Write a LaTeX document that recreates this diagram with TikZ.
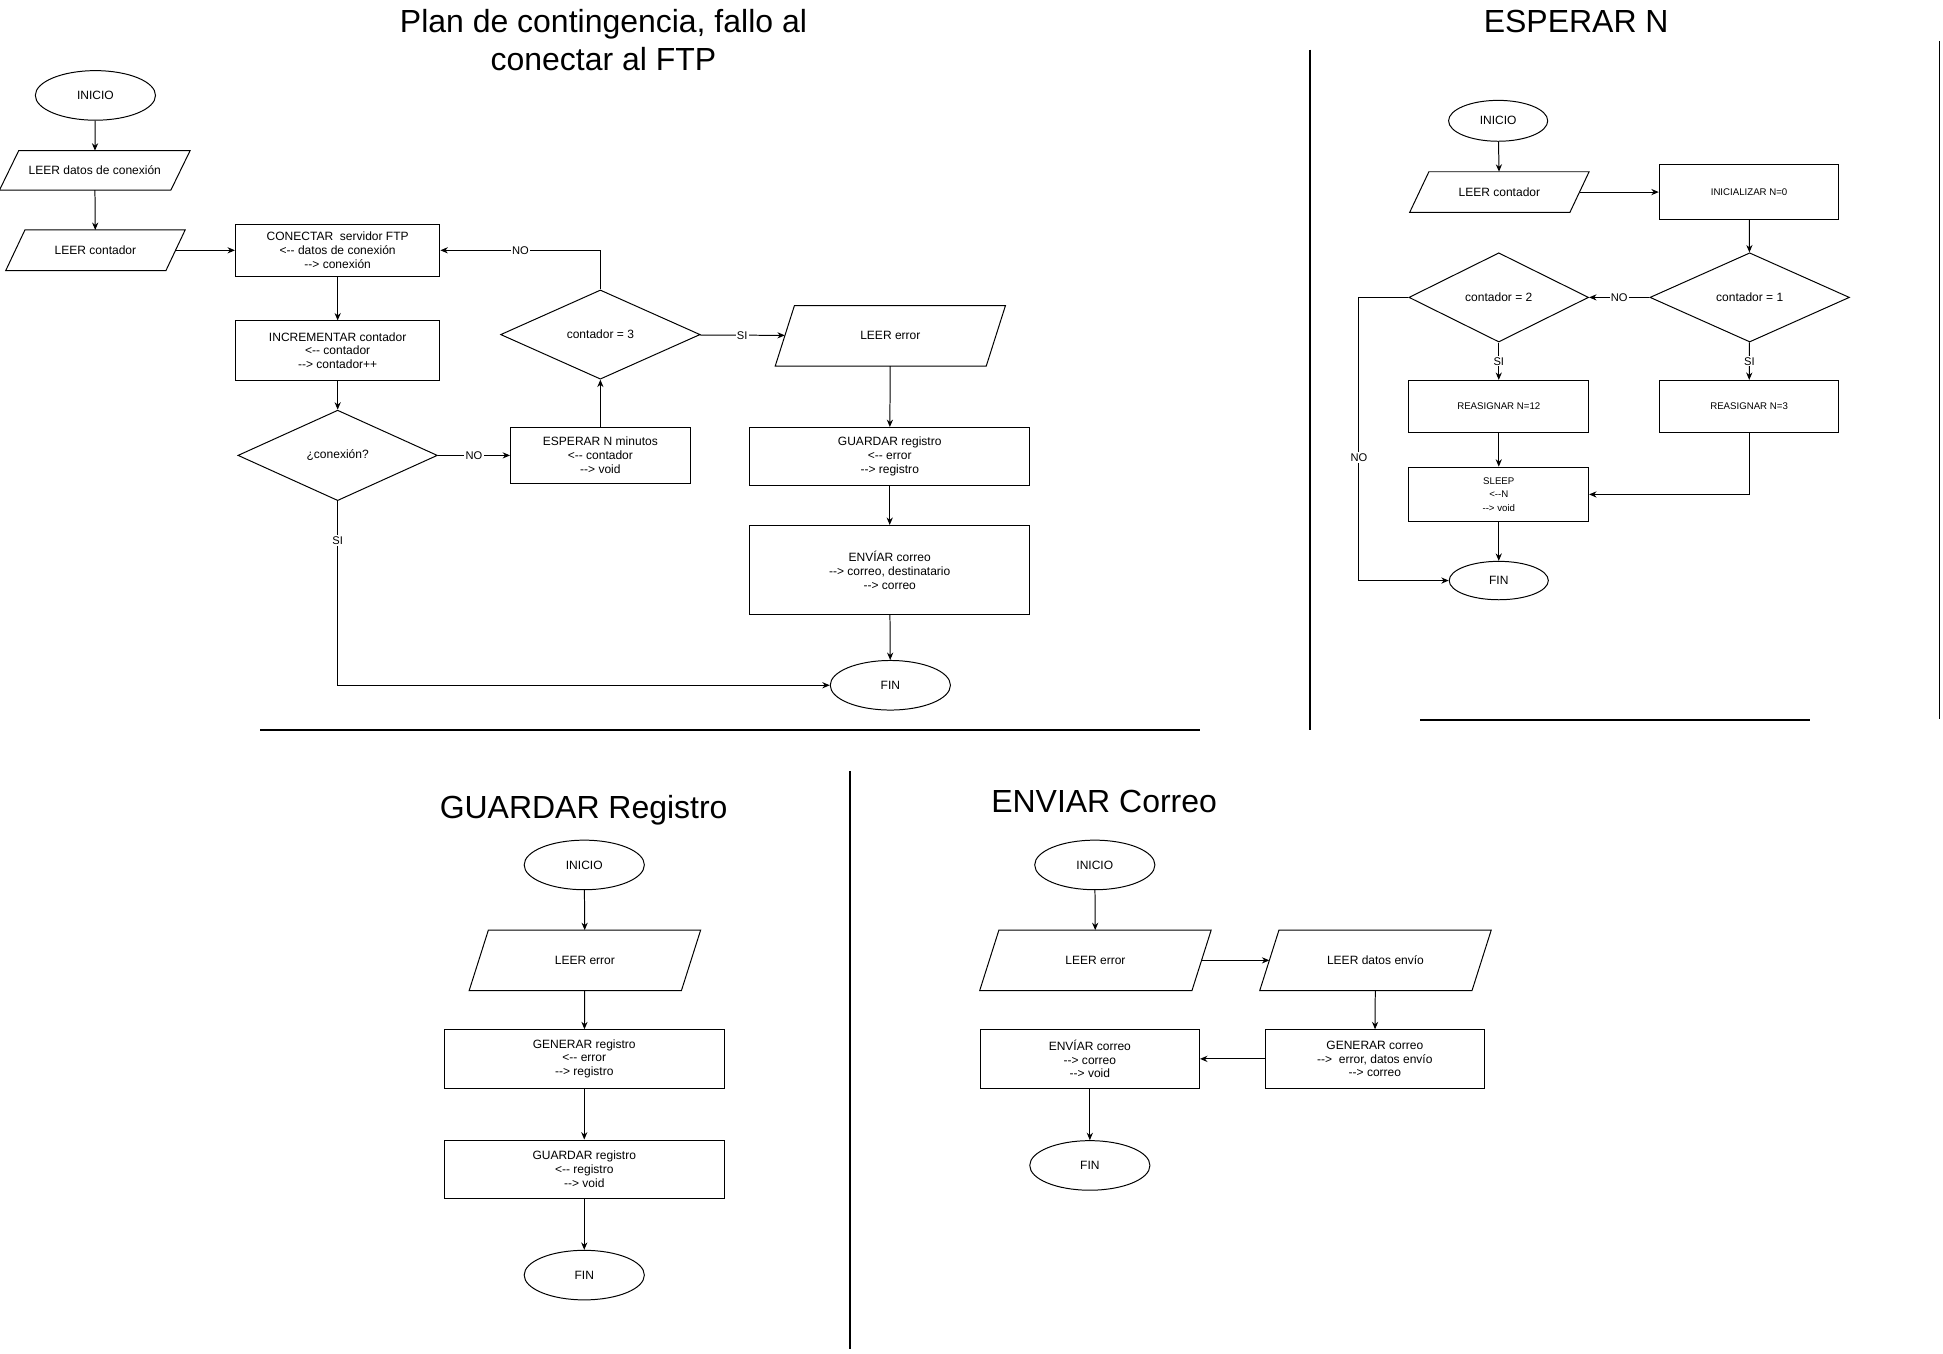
\documentclass[tikz,border=0pt]{standalone}
\usepackage{fontspec}
\setmainfont{Liberation Sans}[Ligatures=TeXOff]
\usetikzlibrary{shapes.geometric,arrows.meta,calc}

\tikzset{
 base/.style={draw, line width=0.8pt, font=\fontsize{9.7}{11.2}\selectfont, align=center, inner sep=0pt},
 small/.style={font=\fontsize{7.8}{11}\selectfont},
 term/.style={base, ellipse, minimum width=97pt, minimum height=40pt},
 io/.style={base, draw=none, rectangle},
 iopath/.style={line width=0.8pt},
 proc/.style={base, rectangle},
 dec/.style={base, diamond},
 arr/.style={line width=0.8pt, -{Stealth[length=6pt,width=5pt]}},
 lbl/.style={fill=white, inner sep=1pt, font=\fontsize{9}{10}\selectfont},
 sepline/.style={line width=1.2pt},
 ttl/.style={font=\fontsize{25.8}{31}\selectfont, align=center, inner sep=0pt},
}
% parallelogram outline round an io node (slant 15.5)
\newcommand\drawio[1]{%
  \draw[iopath] ($(#1.south west)+(-7.75,0)$) -- ($(#1.north west)+(7.75,0)$)
    -- ($(#1.north east)+(7.75,0)$) -- ($(#1.south east)+(-7.75,0)$) -- cycle;}

\begin{document}
\begin{tikzpicture}[x=1pt, y=-1pt]
\useasboundingbox (0,0) rectangle (1568,1092);

% ---------- Section 1 ----------
\node[ttl] (t1) at (487,32.5) {Plan de contingencia, fallo al\\conectar al FTP};
\node[term] (s1i) at (77,77) {INICIO};
\node[io, minimum width=137.5pt, minimum height=31pt] (s1ld) at (76.5,137.5) {LEER datos de conexión};
\drawio{s1ld}
\node[io, minimum width=128.5pt, minimum height=32pt] (s1lc) at (77,202) {LEER contador};
\drawio{s1lc}
\node[proc, minimum width=165pt, minimum height=42pt] (s1con) at (272.5,202) {CONECTAR\ \ servidor FTP\\<-- datos de conexión\\--> conexión};
\node[proc, minimum width=165pt, minimum height=48pt] (s1inc) at (272.5,283) {INCREMENTAR contador\\<-- contador\\--> contador++};
\node[dec, minimum width=161pt, minimum height=73pt] (s1cx) at (272.5,367.5) {¿conexión?};
\node[proc, minimum width=145pt, minimum height=45pt] (s1esp) at (484.5,367.5) {ESPERAR N minutos\\<-- contador\\--> void};
\node[dec, minimum width=161pt, minimum height=72pt] (s1c3) at (484.5,270) {contador = 3};
\node[io, minimum width=169.5pt, minimum height=48pt] (s1le) at (718.5,271) {LEER error};
\drawio{s1le}
\node[proc, minimum width=226pt, minimum height=47pt] (s1gr) at (718,368.5) {GUARDAR registro\\<-- error\\--> registro};
\node[proc, minimum width=226pt, minimum height=72pt] (s1ec) at (718,460) {ENVÍAR correo\\--> correo, destinatario\\--> correo};
\node[term] (s1f) at (718.5,553) {FIN};

\draw[arr] (s1i) -- (s1ld);
\draw[arr] (s1ld) -- (s1lc);
\draw[arr] (s1lc) -- (s1con);
\draw[arr] (s1con) -- (s1inc);
\draw[arr] (s1inc) -- (s1cx);
\draw[arr] (s1cx) -- node[lbl]{NO} (s1esp);
\draw[arr] (s1esp) -- (s1c3);
\draw[arr] (s1c3.north) |- node[lbl, pos=0.75]{NO} (s1con.east);
\draw[arr] (s1c3) -- node[lbl]{SI} (s1le);
\draw[arr] (s1le) -- (s1gr);
\draw[arr] (s1gr) -- (s1ec);
\draw[arr] (s1ec) -- (s1f);
\draw[arr] (s1cx.south) |- node[lbl, pos=0.107]{SI} (s1f.west);

\draw[sepline] (210,589) -- (968,589);
\draw[sepline] (1057,40) -- (1057,589);

% ---------- Section 2 ----------
\node[ttl] (t2) at (1272,17) {ESPERAR N};
\node[term, minimum width=80pt, minimum height=33pt] (s2i) at (1209,97.5) {INICIO};
\node[io, minimum width=128.5pt, minimum height=32pt] (s2lc) at (1210,155) {LEER contador};
\drawio{s2lc}
\node[proc, small, minimum width=145pt, minimum height=44pt] (s2in) at (1411.5,155) {INICIALIZAR N=0};
\node[dec, minimum width=161pt, minimum height=72pt] (s2c1) at (1412,240) {contador = 1};
\node[dec, minimum width=145pt, minimum height=72pt] (s2c2) at (1209.5,240) {contador = 2};
\node[proc, small, minimum width=145pt, minimum height=42pt] (s2r12) at (1209.5,328) {REASIGNAR N=12};
\node[proc, small, minimum width=145pt, minimum height=42pt] (s2r3) at (1411.5,328) {REASIGNAR N=3};
\node[proc, small, minimum width=145pt, minimum height=44pt] (s2sl) at (1209.5,399) {SLEEP\\<--N\\--> void};
\node[term, minimum width=80pt, minimum height=31pt] (s2f) at (1209.5,468.5) {FIN};

\draw[arr] (s2i) -- (s2lc);
\draw[arr] (s2lc) -- (s2in);
\draw[arr] (s2in) -- (s2c1);
\draw[arr] (s2c1) -- node[lbl]{NO} (s2c2);
\draw[arr] (s2c2) -- node[lbl]{SI} (s2r12);
\draw[arr] (s2c1) -- node[lbl]{SI} (s2r3);
\draw[arr] (s2r12) -- (s2sl);
\draw[arr] (s2r3.south) |- (s2sl.east);
\draw[arr] (s2sl) -- (s2f);
\draw[arr] (s2c2.west) -- ++(-40,0) |- node[lbl, pos=0.283]{NO} (s2f.west);

\draw[sepline] (1146,581) -- (1461,581);
\draw[sepline] (1565,33) -- (1565,580);

% ---------- Section 3 ----------
\node[ttl] (t3) at (471,654) {GUARDAR Registro};
\node[term] (s3i) at (471.5,698) {INICIO};
\node[io, minimum width=170.5pt, minimum height=48pt] (s3le) at (472,775) {LEER error};
\drawio{s3le}
\node[proc, minimum width=226pt, minimum height=47pt] (s3gen) at (471.5,854.5) {GENERAR registro\\<-- error\\--> registro};
\node[proc, minimum width=226pt, minimum height=47pt] (s3gr) at (471.5,943.5) {GUARDAR registro\\<-- registro\\--> void};
\node[term] (s3f) at (471.5,1029) {FIN};

\draw[arr] (s3i) -- (s3le);
\draw[arr] (s3le) -- (s3gen);
\draw[arr] (s3gen) -- (s3gr);
\draw[arr] (s3gr) -- (s3f);

\draw[sepline] (686,622) -- (686,1089);

% ---------- Section 4 ----------
\node[ttl] (t4) at (891,647) {ENVIAR Correo};
\node[term] (s4i) at (883.5,698) {INICIO};
\node[io, minimum width=170.5pt, minimum height=48pt] (s4le) at (884,775) {LEER error};
\drawio{s4le}
\node[io, minimum width=170.5pt, minimum height=48pt] (s4ld) at (1110,775) {LEER datos envío};
\drawio{s4ld}
\node[proc, minimum width=177pt, minimum height=47pt] (s4gen) at (1109.5,854.5) {GENERAR correo\\-->\ \ error, datos envío\\--> correo};
\node[proc, minimum width=177pt, minimum height=47pt] (s4env) at (879.5,854.5) {ENVÍAR correo\\--> correo\\--> void};
\node[term] (s4f) at (879.5,940.5) {FIN};

\draw[arr] (s4i) -- (s4le);
\draw[arr] (s4le) -- (s4ld);
\draw[arr] (s4ld) -- (s4gen);
\draw[arr] (s4gen) -- (s4env);
\draw[arr] (s4env) -- (s4f);
\end{tikzpicture}
\end{document}
